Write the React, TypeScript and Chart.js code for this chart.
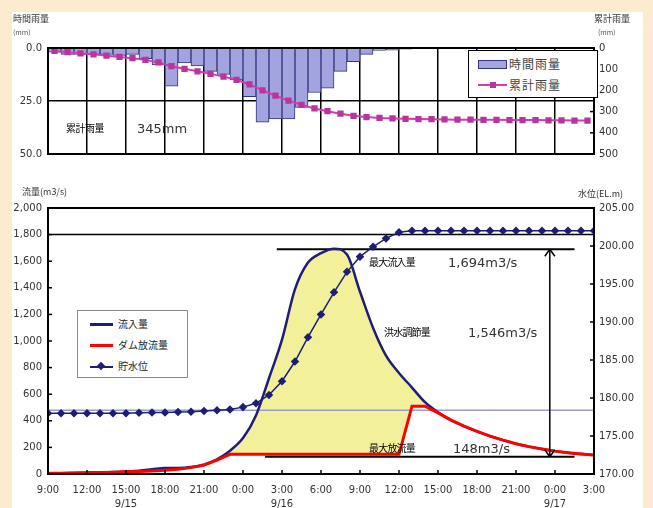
import React, { useEffect, useRef } from "react";
import { Chart, registerables } from "chart.js";

Chart.register(...registerables);

// ---------- DATA ----------
// Top panel: hourly rainfall (mm) per 1-hour slot, 9/15 9:00 -> 9/17 3:00 (42 slots)
const hourlyRain = [
  2, 3, 3, 3, 3, 3.5, 3, 5, 8, 18, 7, 8.5, 11, 12.5, 15, 23, 35, 33.5, 33.5, 28, 21,
  19, 11, 6.5, 3, 1.2, 1, 0.5, 0, 0, 0, 0, 0, 0, 0, 0, 0, 0, 0, 0, 0, 0,
];
// cumulative rainfall (mm), one value per slot
const cumulativeRain = [
  14, 20, 25, 30, 36, 42, 48, 56, 68, 86, 98, 110, 122, 135, 150, 172, 200, 225, 248, 268, 285,
  298, 310, 320, 326, 330, 332, 334, 335, 336, 337, 338, 338, 339, 339, 340, 340, 340, 341, 341, 342, 342,
];

// Bottom panel: hourly values 9/15 9:00 -> 9/17 3:00 (43 points)
const inflow = [
  5, 6, 8, 10, 12, 15, 18, 25, 35, 45, 45, 52, 70, 110, 175, 270, 440, 720, 1010, 1390, 1590,
  1660, 1694, 1650, 1370, 1100, 890, 760, 650, 540, 465, 405, 360, 320, 285, 255, 228, 206, 188,
  172, 160, 150, 142,
];
const outflow = [
  5, 6, 8, 10, 12, 14, 16, 18, 22, 28, 36, 48, 68, 105, 148, 148, 148, 148, 148, 148, 148,
  148, 148, 148, 148, 148, 148, 148, 510, 510, 460, 405, 360, 320, 285, 255, 228, 206, 188,
  172, 160, 150, 142,
];
const waterLevel = [
  178.0, 178.0, 178.0, 178.0, 178.0, 178.0, 178.0, 178.05, 178.1, 178.1, 178.15, 178.2, 178.3,
  178.4, 178.5, 178.8, 179.3, 180.4, 182.2, 184.8, 188.0, 191.0, 193.9, 196.6, 198.6, 199.9,
  201.0, 201.8, 202.0, 202.0, 202.0, 202.0, 202.0, 202.0, 202.0, 202.0, 202.0, 202.0, 202.0,
  202.0, 202.0, 202.0, 202.0,
];

const timeLabels = [
  "9:00", "12:00", "15:00", "18:00", "21:00", "0:00", "3:00", "6:00",
  "9:00", "12:00", "15:00", "18:00", "21:00", "0:00", "3:00",
];
const dateLabels = ["", "", "9/15", "", "", "", "9/16", "", "", "", "", "", "", "9/17", ""];

// reference levels / annotation values
const highLine = 1800; // m3/s
const normalLevel = 178.4; // EL.m
const peakLineValue = 1690;
const peakLineSpan = [17.6, 40.5];
const releaseLineValue = 130;
const releaseLineSpan = [16.7, 40.5];
const arrowHour = 38.6;

// ---------- STYLE ----------
const FONT = "'DejaVu Sans', 'Liberation Sans', sans-serif";
const JP = "'Noto Sans CJK JP', 'DejaVu Sans', sans-serif";
const NAVY = "#1E1E75";

function drawLine(ctx: CanvasRenderingContext2D, x1: number, y1: number, x2: number, y2: number) {
  ctx.beginPath();
  ctx.moveTo(x1, y1);
  ctx.lineTo(x2, y2);
  ctx.stroke();
}

const topDecor = {
  id: "topDecor",
  afterDatasetsDraw(chart: any) {
    const { ctx, chartArea: a, scales } = chart;
    ctx.save();
    ctx.strokeStyle = "#000";
    ctx.lineWidth = 2;
    ctx.strokeRect(a.left, a.top, a.right - a.left, a.bottom - a.top);
    ctx.lineWidth = 1.5;
    scales.yR.ticks.forEach((t: any) => {
      const py = scales.yR.getPixelForValue(t.value);
      drawLine(ctx, a.right - 4, py, a.right, py);
    });
    ctx.restore();
  },
};

const bottomDecor = {
  id: "bottomDecor",
  afterDatasetsDraw(chart: any) {
    const { ctx, chartArea: a, scales } = chart;
    ctx.save();
    ctx.strokeStyle = "#000";
    ctx.lineWidth = 2;
    ctx.strokeRect(a.left, a.top, a.right - a.left, a.bottom - a.top);
    ctx.lineWidth = 1.5;
    scales.x.ticks.forEach((t: any) => {
      const px = scales.x.getPixelForValue(t.value);
      drawLine(ctx, px, a.bottom, px, a.bottom - 4);
    });
    scales.yL.ticks.forEach((t: any) => {
      const py = scales.yL.getPixelForValue(t.value);
      drawLine(ctx, a.left, py, a.left + 4, py);
    });
    scales.yR.ticks.forEach((t: any) => {
      const py = scales.yR.getPixelForValue(t.value);
      drawLine(ctx, a.right - 4, py, a.right, py);
    });
    // double arrow (flood control amount)
    const ax = scales.x.getPixelForValue(arrowHour);
    const yTop = scales.yL.getPixelForValue(peakLineValue);
    const yBot = scales.yL.getPixelForValue(releaseLineValue);
    ctx.lineWidth = 1.5;
    drawLine(ctx, ax, yTop, ax, yBot);
    drawLine(ctx, ax - 5, yTop + 7, ax, yTop);
    drawLine(ctx, ax + 5, yTop + 7, ax, yTop);
    drawLine(ctx, ax - 5, yBot - 7, ax, yBot);
    drawLine(ctx, ax + 5, yBot - 7, ax, yBot);
    ctx.restore();
  },
};

export default function App() {
  const topRef = useRef<HTMLCanvasElement>(null);
  const botRef = useRef<HTMLCanvasElement>(null);

  useEffect(() => {
    Chart.defaults.font.family = FONT;
    Chart.defaults.font.size = 10;
    Chart.defaults.color = "#333";

    const top = new Chart(topRef.current!, {
      type: "bar",
      data: {
        datasets: [
          {
            type: "line",
            label: "累計雨量",
            data: cumulativeRain.map((v, i) => ({ x: i + 0.5, y: v })),
            yAxisID: "yR",
            borderColor: "#D43CB0",
            borderWidth: 2,
            pointStyle: "rect",
            pointRadius: 3,
            pointBackgroundColor: "#B8369C",
            pointBorderColor: "#B8369C",
            order: 0,
          } as any,
          {
            type: "bar",
            label: "時間雨量",
            data: hourlyRain.map((v, i) => ({ x: i + 0.5, y: v })),
            yAxisID: "yL",
            backgroundColor: "#A3A3E0",
            borderColor: "#35357F",
            borderWidth: 1,
            barPercentage: 1,
            categoryPercentage: 1,
            order: 1,
          } as any,
        ],
      },
      options: {
        responsive: false,
        animation: false,
        layout: { padding: { top: 48, left: 0, right: 0, bottom: 0 } },
        plugins: { legend: { display: false }, tooltip: { enabled: false } },
        scales: {
          x: {
            type: "linear",
            min: 0,
            max: 42,
            offset: false,
            ticks: { display: false, stepSize: 3 },
            grid: { color: "#000", lineWidth: 1.5, drawTicks: false, offset: false },
            border: { display: false },
            afterFit: (s: any) => {
              s.height = 16;
            },
          },
          yL: {
            position: "left",
            reverse: true,
            min: 0,
            max: 50,
            ticks: { stepSize: 25, padding: 6, callback: (v: any) => Number(v).toFixed(1) },
            grid: { color: "#000", lineWidth: 1.5, drawTicks: false },
            border: { display: false },
            afterFit: (s: any) => {
              s.width = 48;
            },
          },
          yR: {
            position: "right",
            reverse: true,
            min: 0,
            max: 500,
            ticks: { stepSize: 100, padding: 5 },
            grid: { display: false, drawTicks: false },
            border: { display: false },
            afterFit: (s: any) => {
              s.width = 59;
            },
          },
        },
      } as any,
      plugins: [topDecor],
    });

    const bottom = new Chart(botRef.current!, {
      type: "line",
      data: {
        datasets: [
          {
            label: "貯水位",
            data: waterLevel.map((v, i) => ({ x: i, y: v })),
            yAxisID: "yR",
            borderColor: NAVY,
            borderWidth: 1.5,
            pointStyle: "rectRot",
            pointRadius: 3.2,
            pointBackgroundColor: NAVY,
            pointBorderColor: NAVY,
            order: 0,
          },
          {
            label: "ダム放流量",
            data: outflow.map((v, i) => ({ x: i, y: v })),
            yAxisID: "yL",
            borderColor: "#FF0000",
            borderWidth: 3,
            pointRadius: 0,
            order: 1,
          },
          {
            label: "流入量",
            data: inflow.map((v, i) => ({ x: i, y: v })),
            yAxisID: "yL",
            borderColor: NAVY,
            borderWidth: 2.5,
            pointRadius: 0,
            cubicInterpolationMode: "monotone",
            fill: { target: 1, above: "#F3F09C", below: "rgba(0,0,0,0)" },
            order: 2,
          },
          {
            label: "max inflow",
            data: peakLineSpan.map((x) => ({ x, y: peakLineValue })),
            yAxisID: "yL",
            borderColor: "#000",
            borderWidth: 2,
            pointRadius: 0,
            order: 3,
          },
          {
            label: "max release",
            data: releaseLineSpan.map((x) => ({ x, y: releaseLineValue })),
            yAxisID: "yL",
            borderColor: "#000",
            borderWidth: 2,
            pointRadius: 0,
            order: 3,
          },
          {
            label: "high line",
            data: [0, 42].map((x) => ({ x, y: highLine })),
            yAxisID: "yL",
            borderColor: "#000",
            borderWidth: 1.5,
            pointRadius: 0,
            order: 4,
          },
          {
            label: "normal level",
            data: [0, 42].map((x) => ({ x, y: normalLevel })),
            yAxisID: "yR",
            borderColor: "#9A9ACB",
            borderWidth: 1.5,
            pointRadius: 0,
            order: 5,
          },
        ],
      },
      options: {
        responsive: false,
        animation: false,
        layout: { padding: { top: 38, left: 0, right: 0, bottom: 0 } },
        plugins: {
          legend: { display: false },
          tooltip: { enabled: false },
          filler: { drawTime: "beforeDatasetsDraw" },
        },
        scales: {
          x: {
            type: "linear",
            min: 0,
            max: 42,
            ticks: {
              stepSize: 3,
              autoSkip: false,
              maxRotation: 0,
              padding: 9,
              font: { size: 10, lineHeight: 1.4 },
              callback: (v: any) => {
                const i = Math.round(Number(v) / 3);
                return dateLabels[i] ? [timeLabels[i], dateLabels[i]] : timeLabels[i];
              },
            },
            grid: { display: false, drawTicks: false },
            border: { display: false },
            afterFit: (s: any) => {
              s.height = 34;
            },
          },
          yL: {
            position: "left",
            min: 0,
            max: 2000,
            ticks: {
              stepSize: 200,
              padding: 6,
              callback: (v: any) => Number(v).toLocaleString("en-US"),
            },
            grid: { display: false, drawTicks: false },
            border: { display: false },
            afterFit: (s: any) => {
              s.width = 48;
            },
          },
          yR: {
            position: "right",
            min: 170,
            max: 205,
            ticks: { stepSize: 5, padding: 5, callback: (v: any) => Number(v).toFixed(2) },
            grid: { display: false, drawTicks: false },
            border: { display: false },
            afterFit: (s: any) => {
              s.width = 59;
            },
          },
        },
      } as any,
      plugins: [bottomDecor],
    });

    return () => {
      top.destroy();
      bottom.destroy();
    };
  }, []);

  const txt = (
    s: string,
    left: number,
    cy: number,
    size: number,
    extra: React.CSSProperties = {}
  ) => (
    <div
      style={{
        position: "absolute",
        left,
        top: cy - size / 2 - 1,
        fontSize: size,
        lineHeight: `${size + 2}px`,
        whiteSpace: "nowrap",
        color: "#222",
        fontFamily: JP,
        ...extra,
      }}
    >
      {s}
    </div>
  );

  return (
    <div
      style={{
        position: "absolute",
        left: 0,
        top: 0,
        width: 653,
        height: 508,
        background: "rgb(253, 235, 208)",
        overflow: "hidden",
      }}
    >
      <div
        style={{ position: "absolute", left: 12, top: 12, width: 631, height: 496, background: "#fff" }}
      />
      <canvas
        ref={topRef}
        width={653}
        height={170}
        style={{ position: "absolute", left: 0, top: 0, width: 653, height: 170, display: "block" }}
      />
      <canvas
        ref={botRef}
        width={653}
        height={338}
        style={{ position: "absolute", left: 0, top: 170, width: 653, height: 338, display: "block" }}
      />

      {/* axis titles */}
      {txt("時間雨量", 13, 18, 9, { color: "#333" })}
      {txt("(mm)", 13, 32, 7, { color: "#555" })}
      {txt("累計雨量", 594, 18, 9, { color: "#333" })}
      {txt("(mm)", 598, 32, 7, { color: "#555" })}
      {txt("流量(m3/s)", 22, 191, 9, { color: "#333" })}
      {txt("水位(EL.m)", 578, 193, 9, { color: "#333" })}

      {/* top annotation */}
      {txt("累計雨量", 66, 128, 10, { letterSpacing: -0.5, color: "#000" })}
      {txt("345mm", 137, 128, 13, { fontFamily: FONT, color: "#333" })}

      {/* bottom annotations */}
      {txt("最大流入量", 369, 262, 10, { letterSpacing: -0.8, color: "#000" })}
      {txt("1,694m3/s", 448, 262, 13, { fontFamily: FONT, color: "#333" })}
      {txt("洪水調節量", 384, 332, 10, { letterSpacing: -0.8, color: "#000" })}
      {txt("1,546m3/s", 468, 332, 13, { fontFamily: FONT, color: "#333" })}
      {txt("最大放流量", 369, 448, 10, { letterSpacing: -0.8, color: "#000" })}
      {txt("148m3/s", 453, 448, 13, { fontFamily: FONT, color: "#333" })}

      {/* top legend */}
      <div
        style={{
          position: "absolute",
          left: 468,
          top: 50,
          width: 128,
          height: 46,
          border: "1px solid #000",
          background: "#fff",
        }}
      />
      <div
        style={{
          position: "absolute",
          left: 478,
          top: 60,
          width: 27,
          height: 7,
          background: "#A3A3E0",
          border: "1px solid #35357F",
        }}
      />
      {txt("時間雨量", 509, 64, 12, { color: "#444", letterSpacing: 1 })}
      <div style={{ position: "absolute", left: 478, top: 84, width: 29, height: 2, background: "#D43CB0" }} />
      <div style={{ position: "absolute", left: 490, top: 82, width: 6, height: 6, background: "#B8369C" }} />
      {txt("累計雨量", 509, 85, 12, { color: "#444", letterSpacing: 1 })}

      {/* bottom legend */}
      <div
        style={{
          position: "absolute",
          left: 77,
          top: 310,
          width: 109,
          height: 66,
          border: "1px solid #888",
          background: "#fff",
        }}
      />
      <div style={{ position: "absolute", left: 90, top: 323, width: 23, height: 3, background: NAVY }} />
      {txt("流入量", 118, 324, 10)}
      <div style={{ position: "absolute", left: 90, top: 344, width: 23, height: 3, background: "#FF0000" }} />
      {txt("ダム放流量", 118, 345, 10)}
      <div style={{ position: "absolute", left: 90, top: 366, width: 23, height: 1.5, background: NAVY }} />
      <div
        style={{
          position: "absolute",
          left: 98,
          top: 363,
          width: 6,
          height: 6,
          background: NAVY,
          transform: "rotate(45deg)",
        }}
      />
      {txt("貯水位", 118, 366, 10)}
    </div>
  );
}
